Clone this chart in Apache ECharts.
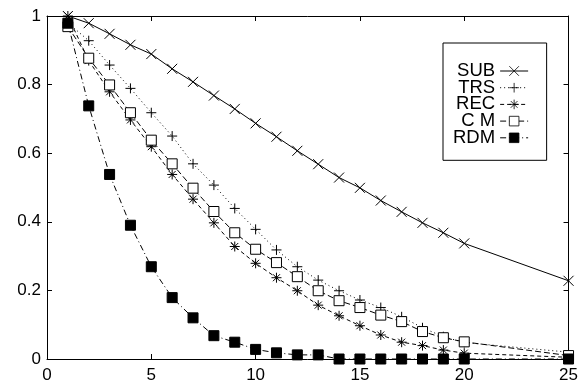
<!DOCTYPE html>
<html><head><meta charset="utf-8">
<script src="https://cdn.jsdelivr.net/npm/echarts@6/dist/echarts.min.js"></script>
<style>html,body{margin:0;padding:0;background:#fff}#c{width:581px;height:385px}</style>
</head><body><div id="c"></div>
<script>
const xs = [1,2,3,4,5,6,7,8,9,10,11,12,13,14,15,16,17,18,19,20,25];
const SUB = [1.0,0.979,0.948,0.916,0.889,0.846,0.808,0.768,0.729,0.687,0.648,0.607,0.568,0.529,0.499,0.462,0.429,0.397,0.368,0.337,0.228];
const TRS = [0.98,0.928,0.857,0.789,0.718,0.65,0.569,0.507,0.439,0.378,0.318,0.269,0.23,0.199,0.172,0.15,0.123,0.091,0.065,0.048,0.02];
const REC = [1.0,0.87,0.779,0.697,0.619,0.538,0.466,0.397,0.328,0.279,0.237,0.199,0.157,0.126,0.097,0.07,0.049,0.039,0.026,0.017,0.005];
const CM  = [0.969,0.877,0.799,0.718,0.638,0.569,0.498,0.43,0.368,0.32,0.281,0.24,0.199,0.17,0.15,0.128,0.109,0.08,0.062,0.05,0.01];
const RDM = [0.979,0.738,0.538,0.39,0.269,0.179,0.12,0.068,0.049,0.028,0.018,0.012,0.012,0,0,0,0,0,0,0,0];
const names = ['SUB','TRS','REC','C M','RDM'];
const xTicks = [0,5,10,15,20,25];
const yTicks = [0,0.2,0.4,0.6,0.8,1];

const pair = a => xs.map((x,i)=>[x,a[i]]);
const FONT = 'Liberation Sans';
const chart = echarts.init(document.getElementById('c'), null, {renderer:'canvas'});
const strokeStyle = {color:'#000', borderColor:'#000', borderWidth:1};
function mk(name, data, sym, size, itemStyle, ltype){
  return {name, type:'line', data:pair(data), symbol:sym, symbolSize:size, showAllSymbol:true,
    itemStyle, lineStyle:{color:'#000', width:1, type:ltype}, emphasis:{disabled:true}, animation:false, z:3};
}
const axisCommon = {
  axisLine:{show:true, onZero:false, lineStyle:{color:'#000', width:1}},
  axisTick:{show:true, inside:true, length:5, lineStyle:{color:'#000'}},
  splitLine:{show:false}
};
chart.setOption({
  animation:false,
  grid:{left:47, right:9, top:16, bottom:26, containLabel:false},
  xAxis:[
    Object.assign({type:'value', min:0, max:25, interval:5, position:'bottom',
      axisLabel:{show:true, color:'#000', fontSize:17, fontFamily:FONT, margin:8,
        formatter:v=> xTicks.includes(v)? String(v):''}}, axisCommon),
    Object.assign({type:'value', min:0, max:25, interval:5, position:'top', axisLabel:{show:false}}, axisCommon)
  ],
  yAxis:[
    Object.assign({type:'value', min:0, max:1, interval:0.2, position:'left',
      axisLabel:{show:true, color:'#000', fontSize:17, fontFamily:FONT, margin:6,
        formatter:v=>{const t=yTicks.find(k=>Math.abs(k-v)<1e-9); return t===undefined?'':String(t);}}}, axisCommon),
    Object.assign({type:'value', min:0, max:1, interval:0.2, position:'right', axisLabel:{show:false}}, axisCommon)
  ],
  legend:{
    data:names, orient:'vertical', align:'right', left:443, top:43,
    backgroundColor:'#fff', borderColor:'#000', borderWidth:1,
    padding:[18.5,18,13,10], itemWidth:28, itemHeight:12, itemGap:-2.3,
    itemStyle:{borderWidth:0.8}, lineStyle:{width:1},
    textStyle:{color:'#000', fontSize:18.5, fontFamily:FONT},
    inactiveColor:'#000', selectedMode:false
  },
  series:[
    mk('SUB', SUB, 'path://M0,0L10,10M10,0L0,10', 10, strokeStyle, 'solid'),
    mk('TRS', TRS, 'path://M5,0L5,10M0,5L10,5', 10, strokeStyle, [1,3]),
    mk('REC', REC, 'path://M5,0L5,10M0,5L10,5M1.5,1.5L8.5,8.5M8.5,1.5L1.5,8.5', 10, strokeStyle, [4,3]),
    mk('C M', CM, 'rect', 10, {color:'#fff', borderColor:'#000', borderWidth:1}, [6,3]),
    mk('RDM', RDM, 'rect', 10, {color:'#000', borderColor:'#000', borderWidth:1}, [6,3,1,3])
  ]
});
</script></body></html>
